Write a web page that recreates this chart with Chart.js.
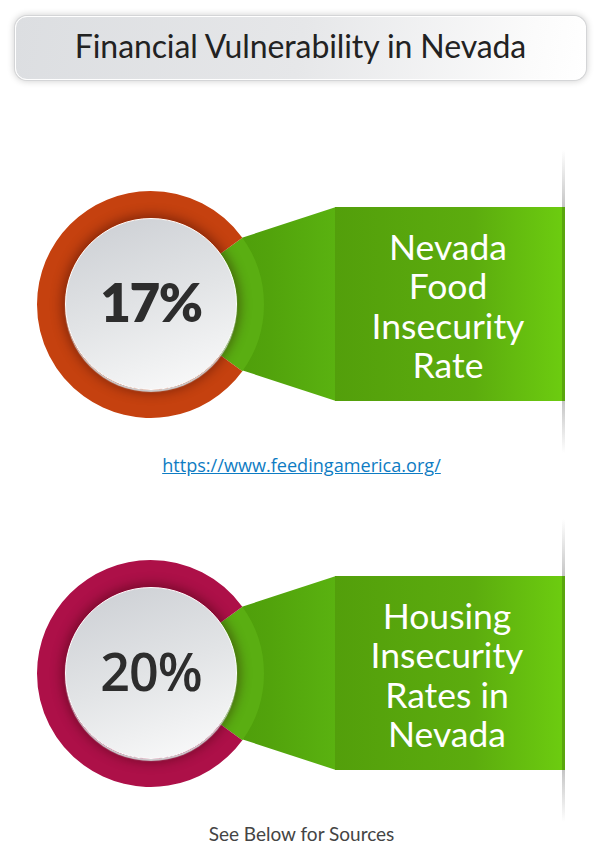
<!DOCTYPE html>
<html><head><meta charset="utf-8">
<script src="https://cdn.jsdelivr.net/npm/chart.js@4"></script>
<style>
html,body{margin:0;padding:0;background:#fff;width:600px;height:846px;overflow:hidden}
body{position:relative;font-family:"Lato","Noto Sans",sans-serif}
.abs{position:absolute}
#titleBox{left:15px;top:16px;width:569px;height:62px;border-radius:12px;border:1px solid #fff;
 background:linear-gradient(100deg,#dcdee1 0%,#e6e7e9 50%,#fbfbfb 90%,#fff 100%);
 box-shadow:0 0 0 1px #d4d5d7,0 0 7px 1px rgba(0,0,0,.2);
 text-align:center;line-height:58px;font-size:32px;font-weight:400;color:#222;letter-spacing:-.1px}
.funnel{left:242px;width:94px;height:194px;clip-path:polygon(0 30.7px,100% 0,100% 100%,0 163.3px);
 background:linear-gradient(90deg,#4f9f0b,#52a30c 30%,#5ab210)}
.banner{left:335px;width:230px;height:194px;background:linear-gradient(90deg,#539f0b,#5cac0e 60%,#6ccb10 98%)}
.banner .strip{position:absolute;right:0;top:0;bottom:0;width:3px;background:#5aa60e}
.banner .txt{position:absolute;left:0;width:100%;top:19.5px;color:#fff;text-align:center;font-size:35.5px;font-weight:400;line-height:39.5px;letter-spacing:0;padding-right:4px;box-sizing:border-box}
.edge{left:562px;width:3px}
canvas.ring{position:absolute}
.disc{left:65px;width:172px;height:172px;border-radius:50%;box-sizing:border-box;border:1.5px solid #fff;
 background:linear-gradient(160deg,#cbced3 0%,#e2e4e6 50%,#fcfcfc 100%);
 box-shadow:0 2px 1px #cfd0d2,0 0 12px 3px rgba(40,0,0,.42);
 text-align:center;color:#2d2d2d;font-size:53px;line-height:166px;letter-spacing:-1.5px}
#link{left:0;width:603px;top:452px;text-align:center;font-family:"Open Sans";font-size:18.1px;color:#0e7cc3;text-decoration:underline;line-height:26px}
#note{left:0;width:603px;top:822px;text-align:center;font-size:19px;font-weight:400;color:#444;line-height:24px}
</style></head><body>
<div id="titleBox" class="abs"></div>
<div id="root"></div>
<div id="link" class="abs"></div>
<div id="note" class="abs"></div>
<script>
const titleText = "Financial Vulnerability in Nevada";
const linkText = "https://www.feedingamerica.org/";
const noteText = "See Below for Sources";
const categories = [["Nevada","Food","Insecurity","Rate"],["Housing","Insecurity","Rates in","Nevada"]];
const percentLabels = ["17%","20%"];
const wedgeLabels = ["Highlighted","Remainder"];
const foodRing = [20,80];
const housingRing = [20,80];
const ringColors = ["#c5410f","#ad1048"];
const wedgeColor = "#5aae12";
const rows = [{ringTop:190.5,bannerTop:207,discTop:218,data:foodRing},
              {ringTop:559.5,bannerTop:576,discTop:587,data:housingRing}];
document.getElementById('titleBox').textContent = titleText;
document.getElementById('link').textContent = linkText;
document.getElementById('note').textContent = noteText;
const root = document.getElementById('root');
rows.forEach((r,i)=>{
  const add=(cls,top,html)=>{const d=document.createElement('div');d.className='abs '+cls;d.style.top=top+'px';if(html)d.innerHTML=html;root.appendChild(d);return d;};
  const e1=add('edge',r.bannerTop-57);e1.style.height='57px';e1.style.background='linear-gradient(180deg,rgba(150,150,150,0),rgba(150,150,150,.55))';
  const e2=add('edge',r.bannerTop+194);e2.style.height='52px';e2.style.background='linear-gradient(0deg,rgba(150,150,150,0),rgba(150,150,150,.55))';
  add('funnel',r.bannerTop);
  const b=add('banner',r.bannerTop,'<div class="strip"></div><div class="txt">'+categories[i].join('<br>')+'</div>');
  if(i==1)b.querySelector('.txt').style.paddingRight='6px';
  const c=document.createElement('canvas');c.className='ring';c.width=227;c.height=227;
  c.style.cssText='left:37px;top:'+r.ringTop+'px;width:227px;height:227px';root.appendChild(c);
  new Chart(c,{type:'doughnut',
    data:{labels:wedgeLabels,datasets:[{data:r.data,backgroundColor:[wedgeColor,ringColors[i]],borderWidth:0}]},
    options:{responsive:false,animation:false,rotation:54,cutout:'60%',layout:{padding:0},
      plugins:{legend:{display:false},tooltip:{enabled:false}}}});
  const d=add('disc',r.discTop,percentLabels[i]);
  d.style.fontWeight=i==0?800:600;
  if(i==1){d.style.fontFamily='"Open Sans"';d.style.fontSize='52px';d.style.letterSpacing='-1px';}
});
</script>
</body></html>
